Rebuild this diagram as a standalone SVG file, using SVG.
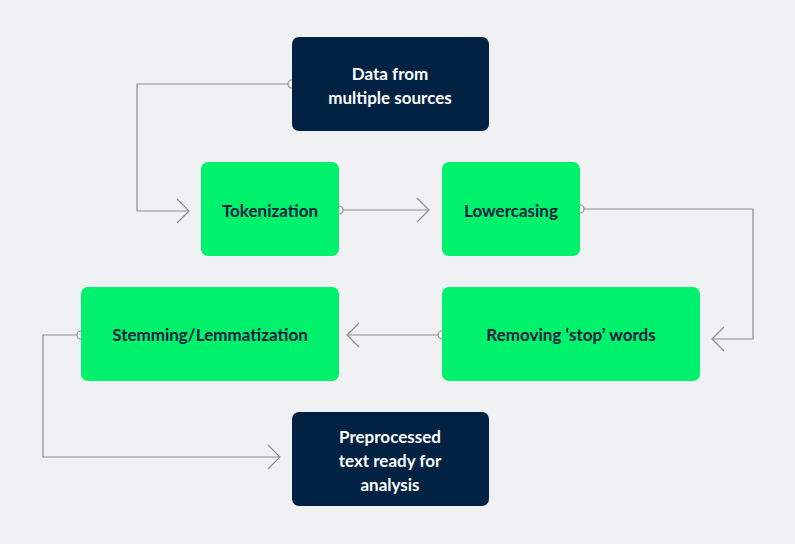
<svg xmlns="http://www.w3.org/2000/svg" width="795" height="544" viewBox="0 0 795 544">
<style>
.d{fill:#022244}.g{fill:#00f26c}
text{font-family:Lato,"Noto Sans",sans-serif;font-weight:bold;font-size:17px;text-anchor:middle}
.dt{fill:#ffffff}.gt{fill:#0b2140}
.c{fill:none;stroke:#8a8d91;stroke-width:1.2}
.a{fill:none;stroke:#8a8d91;stroke-width:1.2}
.p{fill:#fff;stroke:#8a8d91;stroke-width:1.2}
</style>
<rect width="795" height="544" fill="#f0f1f3"/>
<g id="connectors">
<polyline class="c" points="292,84 137,84 137,211 189,211"/><polyline class="a" points="177,199 189,211 177,223"/><circle class="p" cx="292" cy="84" r="4"/>
<polyline class="c" points="339,210 429,210"/><polyline class="a" points="417,198 429,210 417,222"/><circle class="p" cx="339" cy="210" r="4"/>
<polyline class="c" points="580,209 753,209 753,339 712,339"/><polyline class="a" points="724,327 712,339 724,351"/><circle class="p" cx="580" cy="209" r="4"/>
<polyline class="c" points="442,335 347,335"/><polyline class="a" points="359,323 347,335 359,347"/><circle class="p" cx="442" cy="335" r="4"/>
<polyline class="c" points="81,335 43,335 43,457 280,457"/><polyline class="a" points="268,445 280,457 268,469"/><circle class="p" cx="81" cy="335" r="4"/>
</g>
<g id="data"><rect class="d" x="292" y="37" width="197" height="94" rx="7"/><text class="dt" x="390" y="80">Data from</text><text class="dt" x="390" y="104">multiple sources</text></g>
<g id="tokenization"><rect class="g" x="201" y="162" width="138" height="94" rx="7"/><text class="gt" x="270" y="217">Tokenization</text></g>
<g id="lowercasing"><rect class="g" x="442" y="162" width="138" height="94" rx="7"/><text class="gt" x="511" y="217">Lowercasing</text></g>
<g id="stemming"><rect class="g" x="81" y="287" width="258" height="94" rx="7"/><text class="gt" x="210" y="341">Stemming/Lemmatization</text></g>
<g id="removing"><rect class="g" x="442" y="287" width="258" height="94" rx="7"/><text class="gt" x="571" y="341">Removing ‘stop’ words</text></g>
<g id="preprocessed"><rect class="d" x="292" y="412" width="197" height="94" rx="7"/><text class="dt" x="390" y="443">Preprocessed</text><text class="dt" x="390" y="467">text ready for</text><text class="dt" x="390" y="491">analysis</text></g>
</svg>
